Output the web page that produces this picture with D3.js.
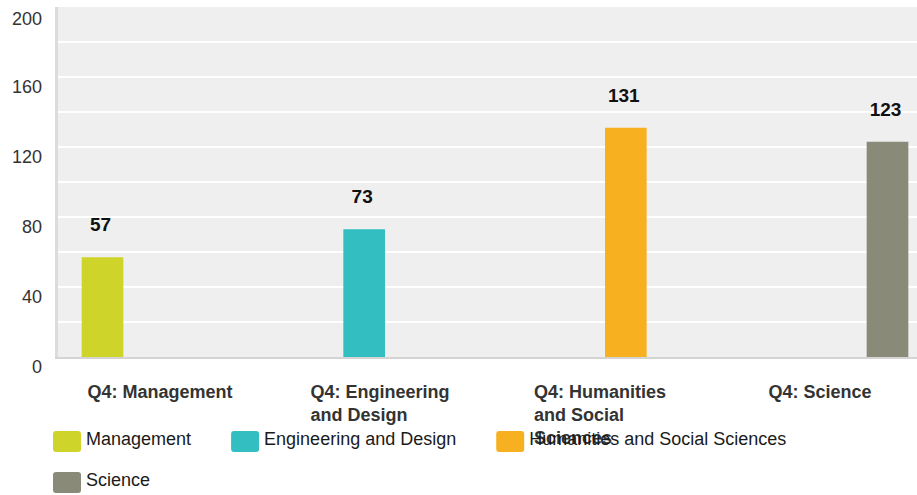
<!DOCTYPE html>
<html><head><meta charset="utf-8">
<script src="https://cdn.jsdelivr.net/npm/d3@7"></script>
<style>
html,body{margin:0;padding:0;background:#fff;overflow:hidden;}
svg{display:block;font-family:"Liberation Sans",Arial,Helvetica,sans-serif;}
</style></head>
<body><svg id="chart" width="917" height="495"></svg>
<script>
const categories = ["Q4: Management", "Q4: Engineering and Design", "Q4: Humanities and Social Sciences", "Q4: Science"];
const seriesNames = ["Management", "Engineering and Design", "Humanities and Social Sciences", "Science"];
const values = [57, 73, 131, 123];
const colors = ["#cfd42a", "#33bfc1", "#f7b01f", "#898a78"];
const yTicks = [0, 40, 80, 120, 160, 200];
const gridTicks = [20, 40, 60, 80, 100, 120, 140, 160, 180];

(function () {
const svg = d3.select("#chart");
const pLeft = 55, pTop = 7, pBottom = 357, pRight = 935;

const y = d3.scaleLinear().domain([0, 200]).range([pBottom, pTop]);
const x0 = d3.scaleBand().domain(categories).range([pLeft, pRight]).padding(0);
const x1 = d3.scaleBand().domain(seriesNames).range([0, x0.bandwidth()]).paddingInner(0).paddingOuter(0.64);

svg.append("rect").attr("x", pLeft).attr("y", pTop).attr("width", pRight - pLeft).attr("height", pBottom - pTop).attr("fill", "#efefef");

svg.append("g").selectAll("line").data(gridTicks).join("line")
  .attr("x1", pLeft + 3).attr("x2", pRight)
  .attr("y1", d => y(d)).attr("y2", d => y(d))
  .attr("stroke", "#ffffff").attr("stroke-width", 2);

svg.append("line").attr("x1", pLeft + 1.5).attr("x2", pLeft + 1.5).attr("y1", pTop).attr("y2", pBottom + 1)
  .attr("stroke", "#dcdcdc").attr("stroke-width", 3);
svg.append("line").attr("x1", pLeft).attr("x2", pRight).attr("y1", pBottom + 1).attr("y2", pBottom + 1)
  .attr("stroke", "#d4d4d4").attr("stroke-width", 2);

const yAxis = d3.axisLeft(y).tickValues(yTicks).tickSize(0).tickPadding(0);
const yg = svg.append("g").attr("transform", "translate(42,0)").call(yAxis);
yg.select(".domain").remove();
yg.selectAll("text").attr("font-size", 18).attr("fill", "#333").attr("dy", "0.71em")
  .attr("font-family", "'Liberation Sans',Arial,sans-serif")
  .attr("transform", d => d === 200 ? "translate(0,5)" : "translate(0,3)");

svg.append("g").selectAll("rect").data(values).join("rect")
  .attr("x", (d, i) => x0(categories[i]) + x1(seriesNames[i]))
  .attr("y", d => y(d))
  .attr("width", x1.bandwidth())
  .attr("height", d => pBottom - y(d))
  .attr("fill", (d, i) => colors[i]);

svg.append("g").selectAll("text").data(values).join("text")
  .attr("x", (d, i) => x0(categories[i]) + x1(seriesNames[i]) + x1.bandwidth() / 2 - 2)
  .attr("y", d => y(d) - 26)
  .attr("text-anchor", "middle").attr("font-size", 19).attr("font-weight", "bold").attr("fill", "#111")
  .text(d => d);

const wrapW = 146;
const xg = svg.append("g");
categories.forEach((c, i) => {
  const cx = x0(c) + x0.bandwidth() / 2 - 5;
  const words = c.split(" ");
  const t = xg.append("text").attr("font-size", 18).attr("font-weight", "bold").attr("fill", "#333");
  let lines = [], cur = [];
  const probe = t.append("tspan");
  words.forEach(w => {
    const test = cur.concat([w]).join(" ");
    probe.text(test);
    if (probe.node().getComputedTextLength() > wrapW && cur.length) { lines.push(cur.join(" ")); cur = [w]; }
    else cur.push(w);
  });
  if (cur.length) lines.push(cur.join(" "));
  probe.remove();
  const spans = lines.map((l, k) => t.append("tspan").attr("y", 398 + k * 23).text(l));
  const maxW = d3.max(spans, s => s.node().getComputedTextLength());
  spans.forEach(s => s.attr("x", cx - maxW / 2));
});

const lg = svg.append("g");
let lx = 53, ly = 431;
seriesNames.forEach((s, i) => {
  const g = lg.append("g");
  const txt = g.append("text").attr("font-size", 18).attr("fill", "#1a1a1a").text(s);
  const tw = txt.node().getComputedTextLength();
  const itemW = 28 + 5 + tw;
  if (lx + itemW > 917) { lx = 53; ly += 41; }
  g.append("rect").attr("x", lx).attr("y", ly).attr("width", 28).attr("height", 21).attr("rx", 3).attr("fill", colors[i]);
  txt.attr("x", lx + 33).attr("y", ly + 14);
  lx += itemW + 40;
});
})();
</script></body></html>
